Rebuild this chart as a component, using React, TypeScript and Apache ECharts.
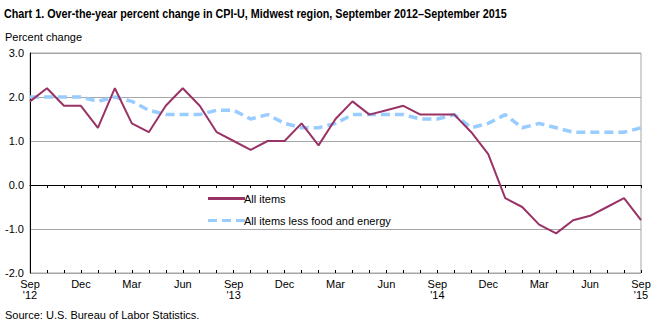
import React, { useEffect, useRef } from "react";
import * as echarts from "echarts";

const months = [
  "Sep '12", "Oct", "Nov", "Dec", "Jan '13", "Feb", "Mar", "Apr", "May", "Jun", "Jul", "Aug",
  "Sep '13", "Oct", "Nov", "Dec", "Jan '14", "Feb", "Mar", "Apr", "May", "Jun", "Jul", "Aug",
  "Sep '14", "Oct", "Nov", "Dec", "Jan '15", "Feb", "Mar", "Apr", "May", "Jun", "Jul", "Aug",
  "Sep '15",
];

const allItems = [
  1.9, 2.2, 1.8, 1.8, 1.3, 2.2, 1.4, 1.2, 1.8, 2.2, 1.8, 1.2,
  1.0, 0.8, 1.0, 1.0, 1.4, 0.9, 1.5, 1.9, 1.6, 1.7, 1.8, 1.6,
  1.6, 1.6, 1.2, 0.7, -0.3, -0.5, -0.9, -1.1, -0.8, -0.7, -0.5, -0.3,
  -0.8,
];

const lessFoodEnergy = [
  2.0, 2.0, 2.0, 2.0, 1.9, 2.0, 1.9, 1.7, 1.6, 1.6, 1.6, 1.7,
  1.7, 1.5, 1.6, 1.4, 1.3, 1.3, 1.4, 1.6, 1.6, 1.6, 1.6, 1.5,
  1.5, 1.6, 1.3, 1.4, 1.6, 1.3, 1.4, 1.3, 1.2, 1.2, 1.2, 1.2,
  1.3,
];

const seriesNames = ["All items", "All items less food and energy"];
const titleText =
  "Chart 1. Over-the-year percent change in CPI-U, Midwest region, September 2012\u2013September 2015";
const yTitle = "Percent change";
const sourceText = "Source: U.S. Bureau of Labor Statistics.";

const FONT = "Arial, 'Liberation Sans', sans-serif";
const MAROON = "#993366";
const LIGHTBLUE = "#99ccff";

function xLabel(v: string): string {
  const parts = v.split(" ");
  if (parts[0] === "Sep" && parts[1]) return "Sep\n" + parts[1];
  return parts[0];
}

export default function App() {
  const ref = useRef<HTMLDivElement>(null);
  useEffect(() => {
    if (!ref.current) return;
    const chart = echarts.init(ref.current, null, { renderer: "svg" });
    chart.setOption({
      animation: false,
      backgroundColor: "#ffffff",
      textStyle: { fontFamily: FONT },
      grid: {
        left: 30,
        right: 18,
        top: 53,
        bottom: 53,
        show: true,
        borderColor: "#a6a6a6",
        borderWidth: 1,
        containLabel: false,
      },
      graphic: [
        {
          type: "text",
          x: 4,
          y: 7,
          scaleX: 0.83,
          style: {
            text: titleText,
            font: "bold 13px Arial, 'Liberation Sans', sans-serif",
            fill: "#000",
          },
        },
        {
          type: "text",
          left: 5,
          top: 31,
          style: { text: yTitle, font: "11px " + FONT, fill: "#000" },
        },
        {
          type: "text",
          left: 5,
          top: 309,
          style: { text: sourceText, font: "11px " + FONT, fill: "#000" },
        },
      ],
      legend: {
        left: 203,
        top: 188,
        orient: "vertical",
        itemWidth: 37,
        itemHeight: 3,
        itemGap: 11,
        textStyle: { fontSize: 11, color: "#000", fontFamily: FONT, padding: [0, 0, 0, -6] },
        data: [
          { name: seriesNames[0], icon: "path://M0,0H37V3H0Z", itemStyle: { color: MAROON } },
          {
            name: seriesNames[1],
            icon: "path://M0,0H9V3H0Z M14,0H23V3H14Z M28,0H37V3H28Z",
            itemStyle: { color: LIGHTBLUE },
          },
        ],
      },
      xAxis: [
        {
          type: "category",
          data: months,
          boundaryGap: false,
          axisLine: { show: true, lineStyle: { color: "#000", width: 1 } },
          axisTick: { show: true, interval: 0, length: 3, lineStyle: { color: "#000" } },
          axisLabel: {
            interval: 2,
            color: "#000",
            fontSize: 11,
            fontFamily: FONT,
            lineHeight: 11,
            margin: 5,
            formatter: (v: string) => xLabel(v),
          },
          splitLine: { show: false },
        },
        {
          type: "category",
          data: months,
          boundaryGap: false,
          position: "bottom",
          axisLine: { show: false },
          axisTick: { show: true, inside: true, interval: 0, length: 3, lineStyle: { color: "#000" } },
          axisLabel: { show: false },
          splitLine: { show: false },
        },
      ],
      yAxis: {
        type: "value",
        min: -2,
        max: 3,
        interval: 1,
        axisLine: { show: true, lineStyle: { color: "#000" } },
        axisTick: { show: false },
        axisLabel: {
          color: "#000",
          fontSize: 11,
          fontFamily: FONT,
          margin: 6,
          formatter: (v: number) => v.toFixed(1),
        },
        splitLine: { show: true, lineStyle: { color: "#a6a6a6", width: 1 } },
      },
      series: [
        {
          name: seriesNames[0],
          type: "line",
          data: allItems,
          symbol: "none",
          lineStyle: { color: MAROON, width: 2 },
          itemStyle: { color: MAROON },
          z: 3,
        },
        {
          name: seriesNames[1],
          type: "line",
          data: lessFoodEnergy,
          symbol: "none",
          lineStyle: { color: LIGHTBLUE, width: 3.5, type: [9, 5] },
          itemStyle: { color: LIGHTBLUE },
          z: 2,
        },
      ],
    });
    return () => chart.dispose();
  }, []);
  return (
    <div
      ref={ref}
      style={{ position: "fixed", left: 0, top: 0, width: 659, height: 326 }}
    />
  );
}
